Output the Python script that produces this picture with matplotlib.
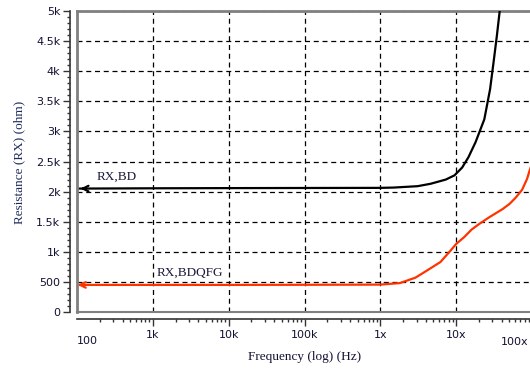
import numpy as np
import matplotlib
matplotlib.use("Agg")
import matplotlib.pyplot as plt
from matplotlib.ticker import FixedLocator

# values (frequency in Hz, resistance in ohm)
freq_bd = [100, 1e3, 1e4, 1e5, 1e6, 1.5e6, 3.1e6, 4.6e6, 7.3e6, 9.5e6, 1.2e7,
           1.45e7, 1.8e7, 2.35e7, 2.8e7, 3.15e7, 3.45e7, 3.75e7, 4.0e7]
rx_bd = [2050, 2055, 2058, 2060, 2062, 2067, 2090, 2130, 2200, 2270, 2400,
         2570, 2820, 3200, 3700, 4200, 4600, 5000, 5400]

freq_bdqfg = [100, 1e3, 1e4, 1e5, 1e6, 1.8e6, 2.9e6, 3.9e6, 6.2e6, 8.3e6, 1e7,
              1.29e7, 1.6e7, 2.0e7, 2.7e7, 4.1e7, 5.1e7, 6.1e7, 7.4e7, 8.6e7,
              9.3e7, 1e8]
rx_bdqfg = [450, 450, 450, 452, 455, 480, 570, 670, 830, 1010, 1130,
            1250, 1370, 1460, 1570, 1710, 1800, 1900, 2030, 2210,
            2350, 2460]

x_ticks = [1e3, 1e4, 1e5, 1e6, 1e7]
x_tick_labels = ["1k", "10k", "100k", "1x", "10x"]
y_ticks = [0, 500, 1000, 1500, 2000, 2500, 3000, 3500, 4000, 4500, 5000]
y_tick_labels = ["0", "500", "1k", "1.5k", "2k", "2.5k", "3k", "3.5k", "4k", "4.5k", "5k"]

W, H = 530, 369
fig = plt.figure(figsize=(W / 100, H / 100), dpi=100)
ax = fig.add_axes([77 / W, (H - 312) / H, (532 - 77) / W, (312 - 11) / H])

ax.set_xscale("log")
ax.set_xlim(100, 1e8)
ax.set_ylim(0, 5000)

ax.grid(True, which="major", color="black", linestyle=(0, (4, 3)), linewidth=0.9)
ax.set_axisbelow(True)

red = "#ff3300"
ax.plot(freq_bd, rx_bd, color="black", lw=1.6, zorder=3)
# red line stops short of the arrow head
ax.plot([119] + freq_bdqfg[1:], [450] + rx_bdqfg[1:], color=red, lw=1.6, zorder=3)

ax.annotate("", xy=(102, 2050), xytext=(140, 2050),
            arrowprops=dict(arrowstyle="->", color="black", lw=1.6,
                            mutation_scale=10), zorder=4)
ax.annotate("", xy=(102, 450), xytext=(120, 450),
            arrowprops=dict(arrowstyle="->", color=red, lw=1.6,
                            mutation_scale=10), zorder=4)

ax.text(330, 2150, "RX,BD", family="Liberation Serif", fontsize=9.5,
        ha="center", va="bottom", color="#1a1a3a")
ax.text(3100, 560, "RX,BDQFG", family="Liberation Serif", fontsize=9.5,
        ha="center", va="bottom", color="#1a1a3a")

# frame
for s in ["top", "right"]:
    ax.spines[s].set_color("#808080")
    ax.spines[s].set_linewidth(2)
ax.axvline(100, color="#808080", lw=2, zorder=5, clip_on=False)
ax.axhline(0, color="#808080", lw=1.5, zorder=5, clip_on=False)

# offset axes carrying the ticks
ax.spines["left"].set_position(("outward", 5))
ax.spines["bottom"].set_position(("outward", 5))
ax.spines["left"].set_color("#333333")
ax.spines["bottom"].set_color("#333333")
ax.spines["left"].set_linewidth(1.2)
ax.spines["bottom"].set_linewidth(1.2)

ax.yaxis.set_major_locator(FixedLocator(y_ticks))
ax.set_yticklabels(y_tick_labels)
ax.yaxis.set_minor_locator(FixedLocator(np.arange(0, 5001, 100)))
ax.set_xticks(x_ticks)
ax.set_xticklabels(x_tick_labels)

ax.tick_params(axis="both", which="major", length=5, width=1, color="#333333",
               labelsize=8, labelcolor="#111133")
ax.tick_params(axis="both", which="minor", length=2.5, width=1, color="#333333")
ax.tick_params(axis="x", pad=3)
ax.tick_params(axis="y", pad=2)
for lab in ax.get_xticklabels() + ax.get_yticklabels():
    lab.set_family("DejaVu Sans")

# first and last decade labels sit lower
fig.text(77 / W, 1 - 341 / H, "100", fontsize=8, family="DejaVu Sans",
         ha="left", va="center", color="#111133")
fig.text(528 / W, 1 - 342 / H, "100x", fontsize=8, family="DejaVu Sans",
         ha="right", va="center", color="#111133")

fig.text(305 / W, 1 - 357 / H, "Frequency (log) (Hz)", family="Liberation Serif",
         fontsize=9.5, ha="center", va="center", color="#111133")
fig.text(19 / W, 1 - 162 / H, "Resistance (RX) (ohm)", family="Liberation Serif",
         fontsize=9.5, ha="center", va="center", rotation=90, color="#1f2a5a")

fig.savefig("out.png", dpi=100)
